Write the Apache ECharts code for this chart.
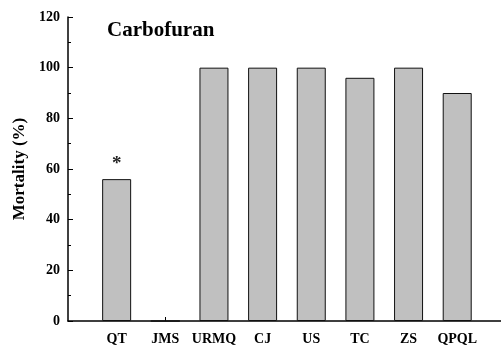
<!DOCTYPE html>
<html><head><meta charset="utf-8">
<script src="https://cdn.jsdelivr.net/npm/echarts@6/dist/echarts.min.js"></script>
<style>html,body{margin:0;padding:0;background:#fff}#c{width:501px;height:346px}</style>
</head><body><div id="c"></div>
<script>
const categories = ['QT','JMS','URMQ','CJ','US','TC','ZS','QPQL'];
const mortality = [56, 0, 100, 100, 100, 96, 100, 90];
const yTicks = [0, 20, 40, 60, 80, 100, 120];
const marked = ['QT'];
const titleText = 'Carbofuran';
const yName = 'Mortality (%)';

const font = '"Liberation Serif","Times New Roman",serif';
const positions = categories.map((c, i) => i + 1);
const data = categories.map((c, i) => ({
  value: [positions[i], mortality[i]],
  label: marked.includes(c) ? {show: true, formatter: '*', position: 'top', distance: 6,
    fontFamily: font, fontSize: 19, fontWeight: 'bold', color: '#222'} : {show: false}
}));

const chart = echarts.init(document.getElementById('c'), null, {renderer: 'canvas'});
chart.setOption({
  animation: false,
  title: {text: titleText, left: 102, top: 15,
    textStyle: {fontFamily: font, fontSize: 21, fontWeight: 'bold', color: '#000'}},
  grid: {left: 68, right: 0, top: 17, bottom: 24, containLabel: false},
  xAxis: {
    type: 'value', min: 0, max: 8.9,
    axisLine: {show: true, onZero: false, lineStyle: {color: '#000', width: 1.5}},
    axisTick: {show: true, inside: true, length: 4, customValues: [positions[1]], lineStyle: {color: '#000', width: 1}},
    axisLabel: {show: true, customValues: positions, margin: 11,
      formatter: v => categories[Math.round(v) - 1] || '',
      fontFamily: font, fontSize: 14, fontWeight: 'bold', color: '#000'},
    splitLine: {show: false}
  },
  yAxis: {
    type: 'value', min: yTicks[0], max: yTicks[yTicks.length - 1], interval: 20,
    name: yName, nameLocation: 'middle', nameGap: 40, nameRotate: 90,
    nameTextStyle: {fontFamily: font, fontSize: 17, fontWeight: 'bold', color: '#000'},
    axisLine: {show: true, lineStyle: {color: '#000', width: 1.5}},
    axisTick: {show: true, inside: true, length: 5, lineStyle: {color: '#000', width: 1}},
    minorTick: {show: true, splitNumber: 2, length: 3, lineStyle: {color: '#000', width: 1}},
    axisLabel: {margin: 8, fontFamily: font, fontSize: 14, fontWeight: 'bold', color: '#000'},
    splitLine: {show: false}
  },
  series: [{
    type: 'bar', data: data, barWidth: 29,
    itemStyle: {color: '#c0c0c0', borderColor: '#111', borderWidth: 1}
  }]
});
</script></body></html>
